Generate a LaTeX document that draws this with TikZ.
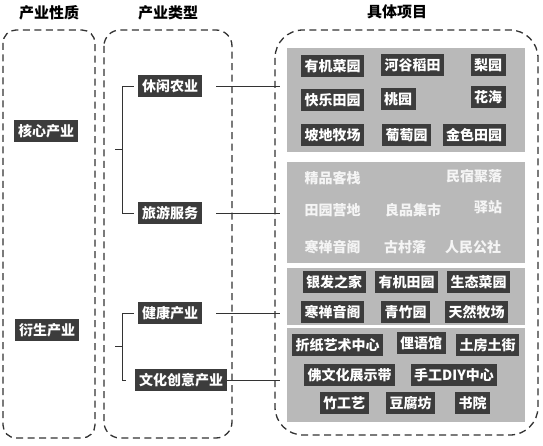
\documentclass[tikz,border=0pt]{standalone}
\usepackage{fontspec}
\newfontfamily\cjk{Noto Sans CJK SC}
\usepackage{tikz}
\definecolor{boxgray}{HTML}{3C3C3C}
\definecolor{panelgray}{HTML}{B9B9B9}
\definecolor{linegray}{HTML}{333333}

\begin{document}
\begin{tikzpicture}[x=1pt,y=-1pt,
  frame/.style={draw=linegray,line width=1.3pt,dash pattern=on 7pt off 4.5pt},
  panel/.style={fill=panelgray,draw=none},
  head/.style={font=\cjk\bfseries\fontsize{15}{15}\selectfont,text=black},
  tag/.style={fill=boxgray,text=white,inner xsep=4pt,inner ysep=0pt,minimum height=22pt,font=\cjk\bfseries\fontsize{14}{14}\selectfont},
  item/.style={fill=boxgray,text=white,inner xsep=3.5pt,inner ysep=0pt,minimum height=22pt,font=\cjk\bfseries\fontsize{14}{14}\selectfont},
  faint/.style={text=white!92!gray,inner sep=0pt,font=\cjk\bfseries\fontsize{14}{14}\selectfont},
  link/.style={draw=linegray,line width=0.8pt}]
\useasboundingbox (0,0) rectangle (543,446);
\fill[white] (0,0) rectangle (543,446);
\coordinate (e1) at (280,86);
\coordinate (e2) at (280,213);
\coordinate (e3) at (280,313);
\coordinate (e4) at (280,380);
\draw[frame,rounded corners=13pt] (3,30) rectangle (95,438);
\draw[frame,rounded corners=16pt] (104,30) rectangle (232,438);
\draw[frame,rounded corners=28pt] (275,30) rectangle (538,435);
\node[head] (h1) at (49,13) {产业性质};
\node[head] (h2) at (168,13) {产业类型};
\node[head] (h3) at (397,12) {具体项目};
\fill[panel] (287,48) rectangle (525,152);
\fill[panel] (287,162) rectangle (525,263);
\fill[panel] (287,268) rectangle (525,325);
\fill[panel] (287,328) rectangle (525,422);
\node[tag] (hexin) at (46,131) {核心产业};
\node[tag] (yansheng) at (47,330) {衍生产业};
\node[tag] (xiuxian) at (170,86) {休闲农业};
\node[tag] (lvyou) at (170,213) {旅游服务};
\node[tag] (jiankang) at (170,313) {健康产业};
\node[tag] (wenhua) at (181,380) {文化创意产业};
% brackets
\draw[link] ([xshift=-4pt]xiuxian.west) -- (122,86) -- (122,213) -- ([xshift=-4pt]lvyou.west);
\draw[link] (115,149) -- (122,149);
\draw[link] ([xshift=-4pt]jiankang.west) -- (122,313) -- (122,380) -- ([xshift=-9pt]wenhua.west);
\draw[link] (115,346) -- (122,346);
% links to the projects
\draw[link] ([xshift=14pt]xiuxian.east) -- (e1);
\draw[link] ([xshift=14pt]lvyou.east) -- (e2);
\draw[link] ([xshift=14pt]jiankang.east) -- (e3);
\draw[link] (wenhua.east) -- (e4);
\foreach \n/\x/\y/\t in {a1/332.5/66/有机菜园,a2/412.5/65/河谷稻田,a3/488/65/梨园,
  a4/332.5/100/快乐田园,a5/398/99/桃园,a6/488/97/花海,
  a7/332.5/135/坡地牧场,a8/406.5/135/葡萄园,a9/474/135/金色田园,
  k1/334/282/银发之家,k2/406.5/282/有机田园,k3/478.5/282/生态菜园,
  k4/332.5/312/寒禅音阁,k5/405.5/312/青竹园,k6/476.5/312/天然牧场,
  w1/337.5/345/折纸艺术中心,w2/421/343/俚语馆,w3/487.5/345/土房土街,
  w4/349.5/375/佛文化展示带,w5/454/375/手工DIY中心,
  w6/344/403/竹工艺,w7/410.5/403/豆腐坊,w8/472.5/403/书院}
{
\node[item] (\n) at (\x,\y) {\t};
}
\foreach \n/\x/\y/\t in {b1/332.5/178/精品客栈,b2/474/176/民宿聚落,
  b3/332.5/210/田园营地,b4/413/210/良品集市,b5/488/207/驿站,
  b6/332.5/247/寒禅音阁,b7/405/247/古村落,b8/473/247/人民公社}
{
\node[faint] (\n) at (\x,\y) {\t};
}
\end{tikzpicture}
\end{document}
